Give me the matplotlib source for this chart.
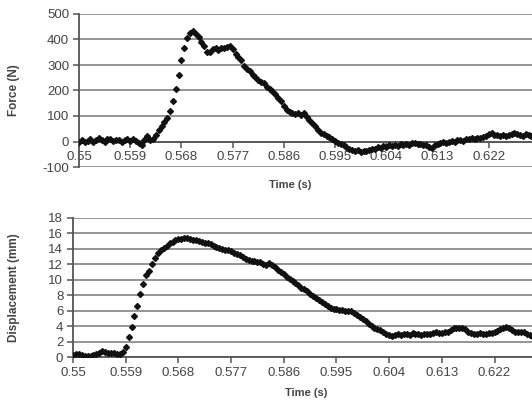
import numpy as np
import matplotlib.pyplot as plt

# sampled every 0.5 ms starting at 0.55 s
t0 = 0.55
dt = 0.0005

force = [0, 5, -3, 2, 8, -2, 4, 12, 6, 0, 8, 10, 3, 7, 5, -2, 6, 8, 3, 10,
         2, -5, -15, 5, 22, 5, 10, 25, 45, 62, 78, 92, 118, 160, 205, 262, 320, 365, 405, 425,
         432, 420, 410, 392, 375, 352, 350, 362, 365, 360, 368, 365, 372, 375, 362, 345, 330, 318, 295, 285,
         275, 260, 252, 240, 235, 228, 215, 205, 198, 185, 172, 160, 140, 122, 115, 112, 108, 110, 105, 110,
         98, 85, 72, 60, 45, 32, 28, 22, 16, 10, 2, -5, -8, -15, -22, -28, -32, -38, -35, -42,
         -36, -38, -32, -30, -28, -22, -25, -18, -20, -15, -18, -12, -16, -10, -12, -8, -14, -6, -4, -10,
         -8, -14, -12, -20, -25, -12, -8, -5, -2, -4, 0, 2, -1, 4, 6, 3, 8, 10, 12, 8,
         15, 13, 18, 20, 28, 32, 25, 24, 22, 25, 20, 24, 28, 35, 30, 26, 22, 30, 25, 20]

displacement = [0.3, 0.35, 0.4, 0.2, 0.1, 0.1, 0.15, 0.2, 0.35, 0.55, 0.8, 0.7, 0.5, 0.55, 0.5, 0.45, 0.35, 0.6, 1.3, 2.6,
                3.9, 5.3, 6.6, 8.2, 9.5, 10.6, 11.2, 12.0, 12.8, 13.5, 13.8, 14.1, 14.4, 14.7, 14.95, 15.1, 15.25, 15.3, 15.35, 15.4,
                15.3, 15.2, 15.1, 15.0, 14.95, 14.8, 14.7, 14.6, 14.4, 14.3, 14.1, 14.0, 13.9, 13.85, 13.7, 13.5, 13.35, 13.2, 13.0, 12.7,
                12.5, 12.45, 12.4, 12.3, 12.3, 12.1, 11.9, 12.2, 11.9, 11.6, 11.3, 11.0, 10.7, 10.4, 10.1, 9.8, 9.6, 9.3, 9.0, 8.8,
                8.6, 8.2, 7.9, 7.6, 7.4, 7.1, 6.9, 6.6, 6.4, 6.2, 6.2, 6.1, 6.1, 6.0, 6.0, 5.9, 5.7, 5.5, 5.2, 4.9,
                4.6, 4.3, 4.0, 3.8, 3.6, 3.5, 3.3, 3.0, 2.8, 2.7, 2.9, 3.0, 2.9, 3.0, 3.0, 2.9, 3.1, 3.0, 3.0, 2.9,
                3.0, 3.0, 3.0, 3.1, 3.2, 3.1, 3.1, 3.2, 3.3, 3.5, 3.7, 3.8, 3.8, 3.7, 3.6, 3.3, 3.1, 3.0, 3.0, 3.1,
                3.0, 3.0, 3.1, 3.1, 3.2, 3.4, 3.6, 3.8, 3.85, 3.7, 3.5, 3.3, 3.3, 3.2, 3.3, 3.0, 2.8, 2.6, 2.7, 2.8]

tick_times = [0.55, 0.559, 0.568, 0.577, 0.586, 0.595, 0.604, 0.613, 0.622]
tick_labels = ['0.55', '0.559', '0.568', '0.577', '0.586', '0.595', '0.604', '0.613', '0.622']
force_ticks = [-100, 0, 100, 200, 300, 400, 500]
disp_ticks = [0, 2, 4, 6, 8, 10, 12, 14, 16, 18]

t = t0 + dt * np.arange(len(force))
xmax = t0 + dt * 159.2

plt.rcParams['font.family'] = ['Liberation Sans', 'DejaVu Sans']
plt.rcParams['axes.unicode_minus'] = False

W, H = 532, 401
fig = plt.figure(figsize=(W / 100, H / 100), dpi=100)

grid_c = '#959595'
txt_c = '#444444'


def style(ax, yticks):
    ax.set_yticks(yticks)
    ax.set_xticks(tick_times)
    ax.set_xticklabels(tick_labels)
    for y in yticks:
        ax.axhline(y, color=grid_c, lw=1.4, zorder=0)
    for s in ['top', 'right']:
        ax.spines[s].set_visible(False)
    ax.spines['left'].set_color('#555555')
    ax.spines['left'].set_linewidth(1.3)
    ax.spines['bottom'].set_color('#555555')
    ax.spines['bottom'].set_linewidth(1.3)
    ax.tick_params(axis='both', colors='#555555', labelcolor=txt_c, labelsize=9.5,
                   length=4, width=1.1, direction='out')
    ax.tick_params(axis='x', pad=3)
    ax.tick_params(axis='y', pad=3)


# Force plot
ax1 = fig.add_axes([79 / W, (H - 167) / H, (532 - 79) / W, 153 / H])
ax1.plot(t, force, linestyle='none', marker='D', ms=3, color='#111111', zorder=3)
ax1.set_xlim(t0, xmax)
ax1.set_ylim(-100, 500)
style(ax1, force_ticks)
ax1.spines['bottom'].set_position(('data', 0))
ax1.set_ylabel('Force (N)', fontsize=8.5, fontweight='bold', color=txt_c)
fig.text(290 / W, 1 - 185 / H, 'Time (s)', fontsize=8, fontweight='bold',
         color=txt_c, ha='center', va='center')

# Displacement plot
ax2 = fig.add_axes([73 / W, (H - 357) / H, 466 / W, 139 / H])
ax2.plot(t[:len(displacement)], displacement, linestyle='none', marker='D', ms=3,
         color='#111111', zorder=3)
ax2.set_xlim(t0, xmax)
ax2.set_ylim(0, 18)
style(ax2, disp_ticks)
ax2.set_ylabel('Displacement (mm)', fontsize=8.5, fontweight='bold', color=txt_c)
fig.text(306 / W, 1 - 393 / H, 'Time (s)', fontsize=8, fontweight='bold',
         color=txt_c, ha='center', va='center')

for ax in (ax1, ax2):
    ax.yaxis.set_label_coords(-(ax.get_position().x0 * W - 20) / (ax.get_position().width * W), 0.5)

fig.savefig('out.png', dpi=100)
